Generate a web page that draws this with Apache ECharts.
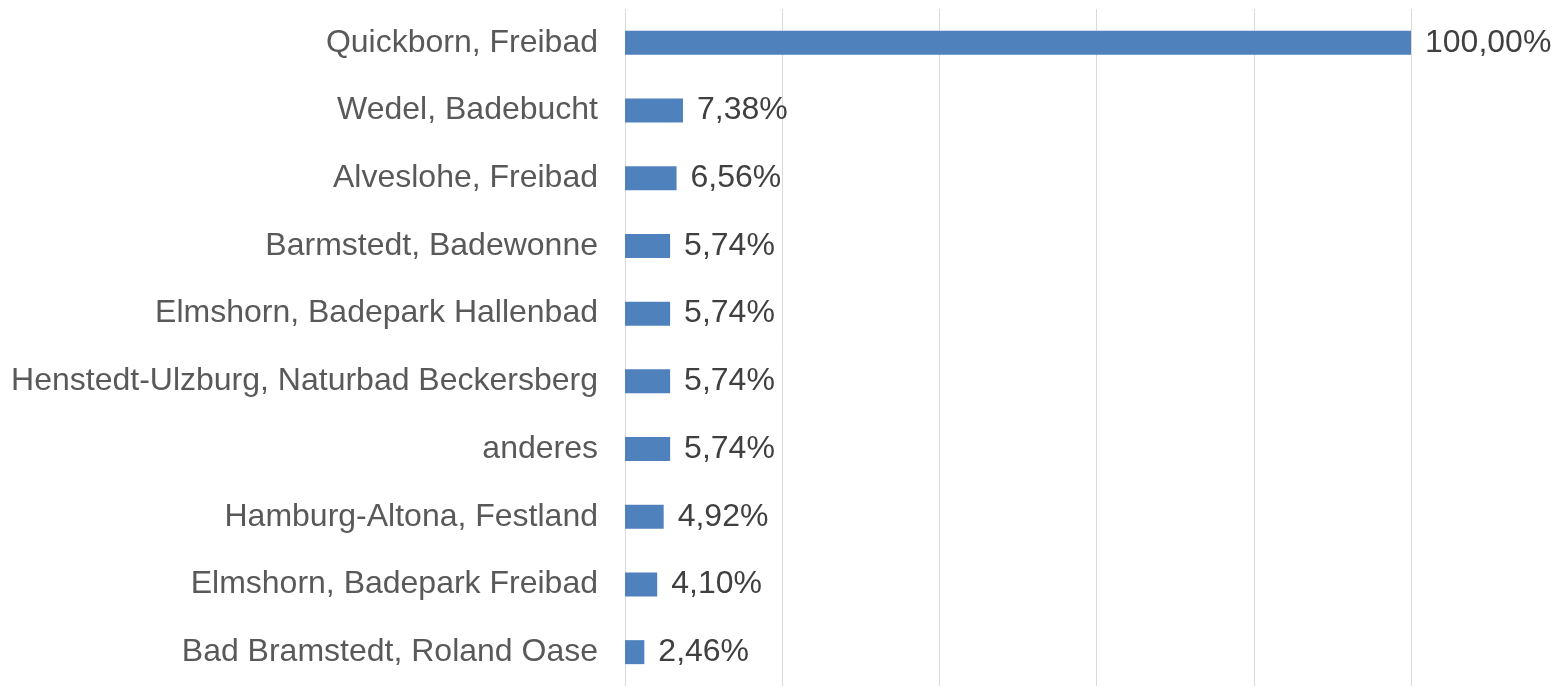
<!DOCTYPE html>
<html>
<head>
<meta charset="utf-8">
<script src="https://cdn.jsdelivr.net/npm/echarts@6/dist/echarts.min.js"></script>
<style>
  html, body { margin: 0; padding: 0; background: #fff; }
  #chart { width: 1564px; height: 686px; }
</style>
</head>
<body>
<div id="chart"></div>
<script>
// Kategorien von oben nach unten
var categories = [
  'Quickborn, Freibad',
  'Wedel, Badebucht',
  'Alveslohe, Freibad',
  'Barmstedt, Badewonne',
  'Elmshorn, Badepark Hallenbad',
  'Henstedt-Ulzburg, Naturbad Beckersberg',
  'anderes',
  'Hamburg-Altona, Festland',
  'Elmshorn, Badepark Freibad',
  'Bad Bramstedt, Roland Oase'
];
var values = [100.00, 7.38, 6.56, 5.74, 5.74, 5.74, 5.74, 4.92, 4.10, 2.46];

var chart = echarts.init(document.getElementById('chart'));

var option = {
  animation: false,
  grid: {
    left: 625,
    right: 153,
    top: 9,
    bottom: -4
  },
  xAxis: {
    type: 'value',
    min: 0,
    max: 100,
    interval: 20,
    axisLabel: { show: false },
    axisLine: { show: false },
    axisTick: { show: false },
    splitLine: { lineStyle: { color: '#d9d9d9', width: 1 } }
  },
  yAxis: {
    type: 'category',
    inverse: true,
    data: categories,
    axisLine: { show: false },
    axisTick: { show: false },
    axisLabel: {
      color: '#595959',
      fontSize: 32,
      fontFamily: '"Liberation Sans", Arial, sans-serif',
      margin: 27,
      padding: [4, 0, 0, 0]
    }
  },
  series: [{
    type: 'bar',
    data: values,
    barWidth: 24,
    itemStyle: { color: '#4f81bd' },
    label: {
      show: true,
      position: 'right',
      distance: 14,
      color: '#404040',
      fontSize: 32,
      fontFamily: '"Liberation Sans", Arial, sans-serif',
      padding: [4, 0, 0, 0]
    ,
      formatter: function (p) {
        return p.value.toFixed(2).replace('.', ',') + '%';
      }
    }
  }]
};
chart.setOption(option);
</script>
</body>
</html>
